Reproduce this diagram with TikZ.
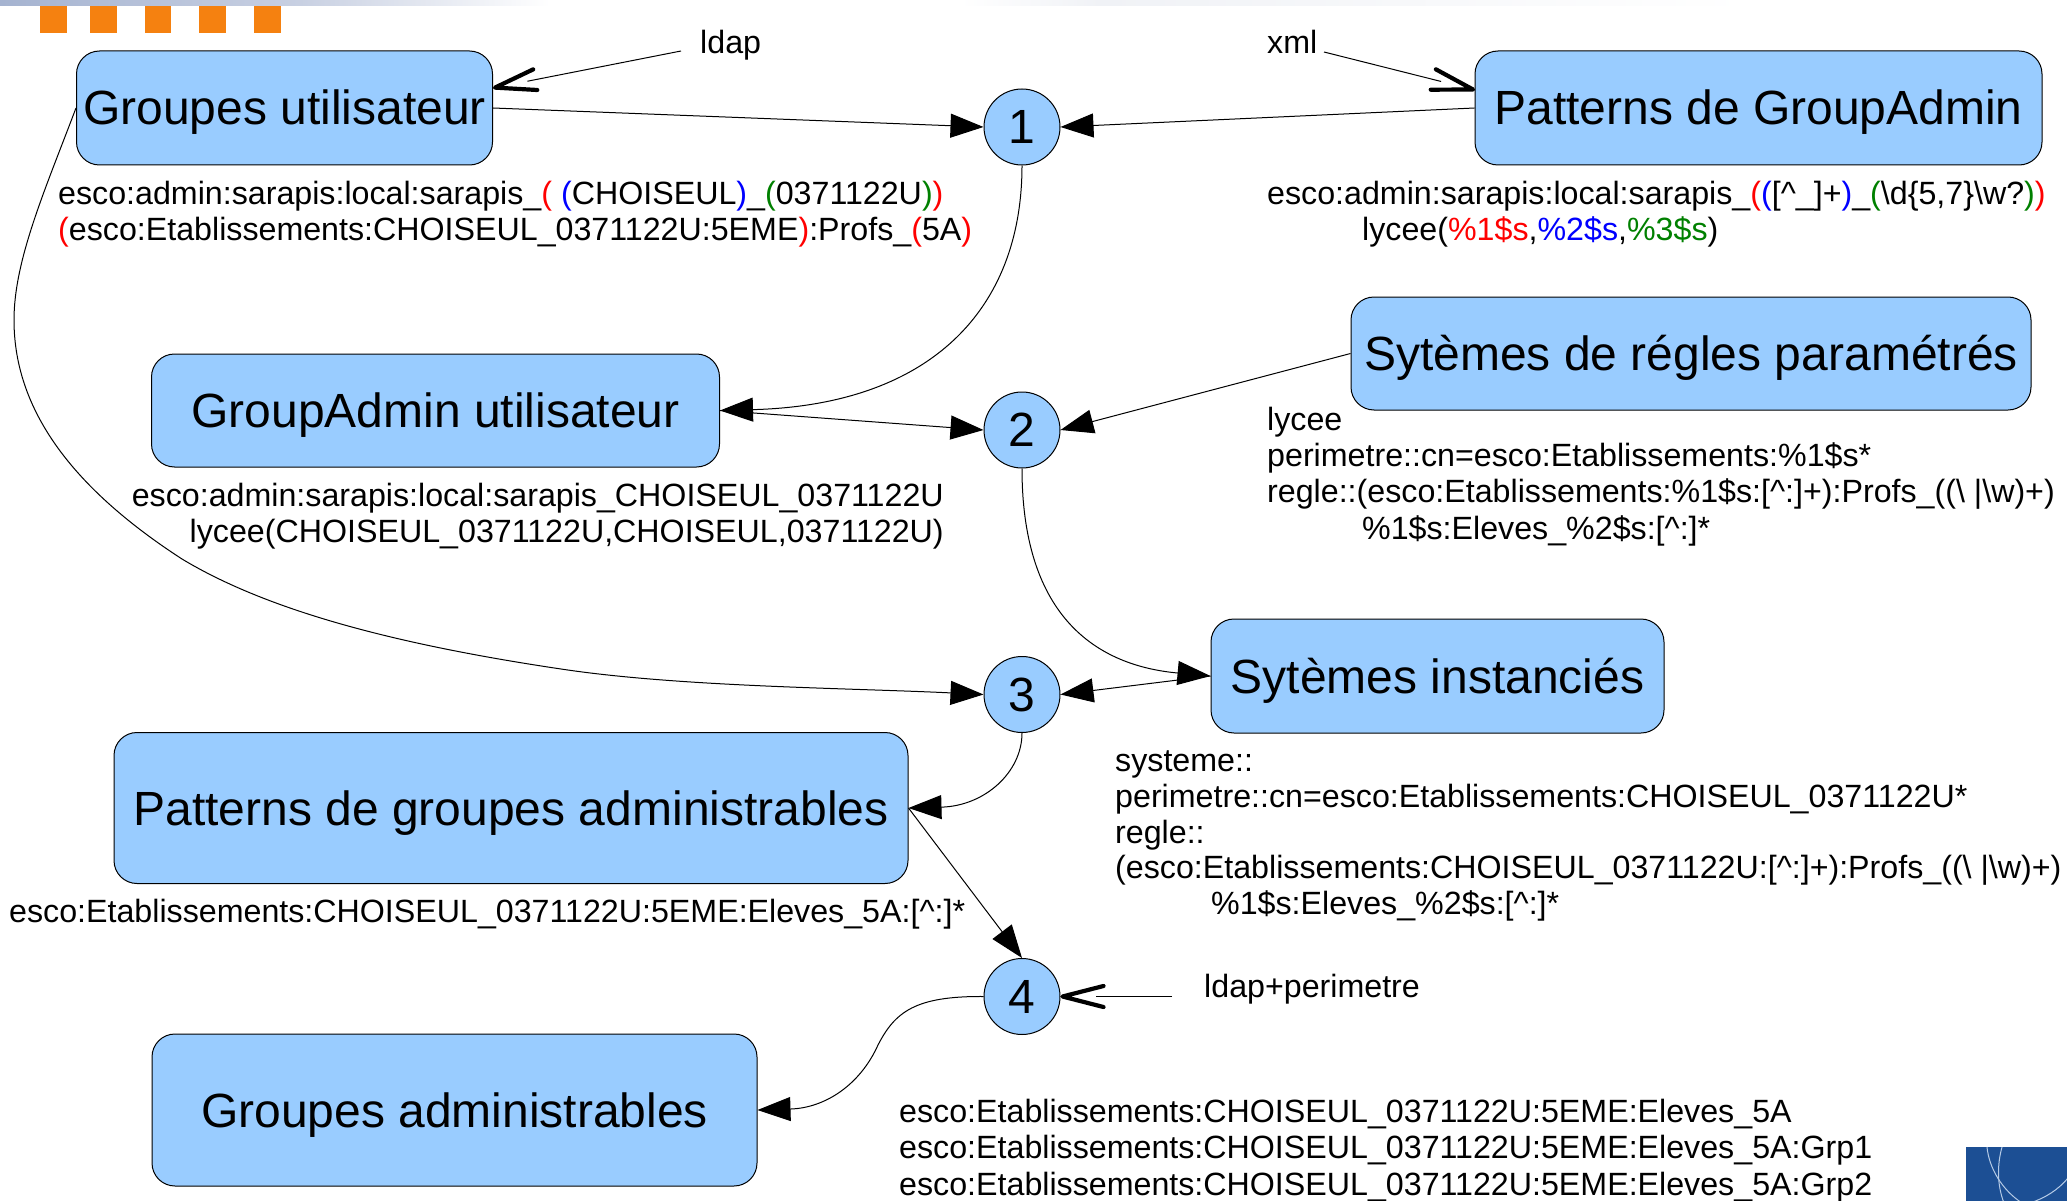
\documentclass[tikz,border=0pt]{standalone}
\usepackage{fontspec}
\setmainfont{Liberation Sans}
\usetikzlibrary{arrows.meta}
\pgfdeclarearrow{
  name=OpenVee,
  setup code={
    \pgfarrowssettipend{0pt}
    \pgfarrowssetbackend{-46pt}
    \pgfarrowssetvisualbackend{-46pt}
    \pgfarrowssetlineend{-35pt}
    \pgfarrowshullpoint{0pt}{0pt}
    \pgfarrowshullpoint{-46pt}{11pt}
    \pgfarrowshullpoint{-46pt}{-11pt}
  },
  drawing code={
    \pgfsetlinewidth{4.2pt}
    \pgfsetroundcap
    \pgfsetroundjoin
    \pgfsetdash{}{0pt}
    \pgfpathmoveto{\pgfqpoint{-43pt}{10.5pt}}
    \pgfpathlineto{\pgfqpoint{-2pt}{0pt}}
    \pgfpathlineto{\pgfqpoint{-43pt}{-10.5pt}}
    \pgfusepathqstroke
  },
  parameters={openvee}
}
\definecolor{boxblue}{HTML}{99CCFF}
\definecolor{orsq}{HTML}{F58110}
\definecolor{cornerblue}{HTML}{1C4F94}
\definecolor{cornerline}{HTML}{B5CBE6}
\definecolor{rd}{HTML}{FF0000}
\definecolor{bl}{HTML}{0000FF}
\definecolor{gn}{HTML}{008000}
\definecolor{bandA}{HTML}{A5B3D0}
\definecolor{bandB}{HTML}{C8D0E2}
\definecolor{bandC}{HTML}{F0F2F6}
\newcommand{\rp}[1]{\textcolor{rd}{#1}}
\newcommand{\bp}[1]{\textcolor{bl}{#1}}
\newcommand{\gp}[1]{\textcolor{gn}{#1}}
\newcommand{\crt}{\textasciicircum{}}
\newcommand{\bsl}{\textbackslash{}}
\tikzset{
  procbox/.style={draw=black,line width=1pt,fill=boxblue,rounded corners=23pt,inner sep=0pt,
    font=\fontsize{48}{55}\selectfont,text height=34pt,text depth=0pt,align=center},
  stepdot/.style={draw=black,line width=1pt,fill=boxblue,circle,minimum size=76pt,inner sep=0pt,
    font=\fontsize{48}{55}\selectfont,text height=33pt,text depth=0pt},
  lbl/.style={anchor=base west,inner sep=0pt,font=\fontsize{32.2}{36}\selectfont},
  lble/.style={lbl,anchor=base east},
  conn/.style={draw=black,line width=1pt,-{Triangle[length=33pt,width=24pt]}},
  feed/.style={draw=black,line width=1pt,-{OpenVee}},
  square/.style={fill=orsq},
}
\begin{document}
\begin{tikzpicture}[x=1pt,y=-1pt]
\useasboundingbox (0,0) rectangle (2067,1201);
% top band
\shade[left color=bandA,right color=bandB] (0,0) rectangle (300,6);
\shade[left color=bandB,right color=white] (300,0) rectangle (550,6);
\shade[left color=white,right color=bandC] (960,0) rectangle (1100,6);
\shade[left color=bandC,right color=white] (1100,0) rectangle (1750,6);
% orange squares
\fill[square] (40,6) rectangle (67,33);
\fill[square] (90,6) rectangle (117,33);
\fill[square] (145,6) rectangle (171,33);
\fill[square] (199,6) rectangle (226,33);
\fill[square] (254,6) rectangle (281,33);
% corner logo
\begin{scope}
\clip (1966,1147) rectangle (2067,1201);
\fill[cornerblue] (1966,1147) rectangle (2067,1201);
\draw[cornerline,line width=1pt] (1987,1147) .. controls (1989,1168) and (2002,1190) .. (2022,1203);
\draw[cornerline,line width=1pt] (2002,1147) .. controls (1997,1165) and (1997,1185) .. (2004,1203);
\draw[cornerline,line width=1pt] (2030,1203) .. controls (2045,1198) and (2058,1190) .. (2068,1178);
\end{scope}
% boxes
\node[procbox,minimum width=416pt,minimum height=114pt] (gu) at (284.5,108) {Groupes utilisateur};
\node[procbox,minimum width=567pt,minimum height=114pt] (pg) at (1758.5,108) {Patterns de GroupAdmin};
\node[procbox,minimum width=680pt,minimum height=113pt] (sr) at (1691,353.5) {Sytèmes de régles paramétrés};
\node[procbox,minimum width=568pt,minimum height=113pt] (ga) at (435.5,410.5) {GroupAdmin utilisateur};
\node[procbox,minimum width=453pt,minimum height=114pt] (si) at (1437.5,676) {Sytèmes instanciés};
\node[procbox,minimum width=794pt,minimum height=151pt] (pa) at (511,808) {Patterns de groupes administrables};
\node[procbox,minimum width=605pt,minimum height=152pt] (ad) at (454.5,1110) {Groupes administrables};
% steps
\node[stepdot] (c1) at (1022,127) {1};
\node[stepdot] (c2) at (1022,430) {2};
\node[stepdot] (c3) at (1022,694.5) {3};
\node[stepdot] (c4) at (1022,996.5) {4};
% free labels
\node[lbl] (ldap) at (700,53.5) {ldap};
\node[lbl] (xml) at (1267,53.5) {xml};
\node[lbl] (ldapp) at (1204,997) {ldap+perimetre};
\coordinate (ldapstart) at (681,51);
\coordinate (xmlstart) at (1324,52);
\coordinate (lpstart) at (1172,996.5);
\coordinate (ldaptip) at (493,88);
\coordinate (xmltip) at (1475,90);
% connectors
\draw[conn] (gu.east) -- (c1.west);
\draw[conn] (pg.west) -- (c1.east);
\draw[feed] (ldapstart) -- (ldaptip);
\draw[feed] (xmlstart) -- (xmltip);
\draw[conn] (c1.south) .. controls (1022,310) and (930,405) .. (ga.east);
\draw[conn] (ga.east) -- (c2.west);
\draw[conn] (sr.west) -- (c2.east);
\draw[conn] (c2.south) .. controls (1022,610) and (1090,665) .. (si.west);
\draw[conn] (si.west) -- (c3.east);
\draw[conn] (gu.west) .. controls (45,190) and (14,260) .. (14,320) .. controls (14,400) and (60,480) .. (182,559) .. controls (270,612) and (400,645) .. (561,669) .. controls (680,687) and (850,688) .. (c3.west);
\draw[conn] (c3.south) .. controls (1022,772) and (985,806) .. (pa.east);
\draw[conn] (pa.east) -- (c4.north);
\draw[feed] (lpstart) -- (c4.east);
\draw[conn] (c4.west) .. controls (915,996) and (895,1012) .. (878,1045) .. controls (860,1085) and (825,1108) .. (ad.east);
% texts
\node[lbl] (t1a) at (58,204.5) {esco:admin:sarapis:local:sarapis\_\rp{(} \bp{(}CHOISEUL\bp{)}\_\gp{(}0371122U\gp{)}\rp{)}};
\node[lbl] (t1b) at (58,240.5) {\rp{(}esco:Etablissements:CHOISEUL\_0371122U:5EME\rp{)}:Profs\_\rp{(}5A\rp{)}};
\node[lbl] (t2a) at (1267,204.5) {esco:admin:sarapis:local:sarapis\_\rp{(}\bp{(}[\crt\_]+\bp{)}\_\gp{(}\bsl d\{5,7\}\bsl w?\gp{)}\rp{)}};
\node[lbl] (t2b) at (1362,240.5) {lycee(\rp{\%1\$s},\bp{\%2\$s},\gp{\%3\$s})};
\node[lbl] (t3a) at (1267,430) {lycee};
\node[lbl] (t3b) at (1267,466) {perimetre::cn=esco:Etablissements:\%1\$s*};
\node[lbl] (t3c) at (1267,502.5) {regle::(esco:Etablissements:\%1\$s:[\crt:]+):Profs\_((\bsl\ |\bsl w)+)};
\node[lbl] (t3d) at (1362,539) {\%1\$s:Eleves\_\%2\$s:[\crt:]*};
\node[lble] (t4a) at (944,506) {esco:admin:sarapis:local:sarapis\_CHOISEUL\_0371122U};
\node[lble] (t4b) at (944,542) {lycee(CHOISEUL\_0371122U,CHOISEUL,0371122U)};
\node[lbl] (t5a) at (1115,771) {systeme::};
\node[lbl] (t5b) at (1115,807) {perimetre::cn=esco:Etablissements:CHOISEUL\_0371122U*};
\node[lbl] (t5c) at (1115,843) {regle::};
\node[lbl] (t5d) at (1115,878.5) {(esco:Etablissements:CHOISEUL\_0371122U:[\crt:]+):Profs\_((\bsl\ |\bsl w)+)};
\node[lbl] (t5e) at (1211,914) {\%1\$s:Eleves\_\%2\$s:[\crt:]*};
\node[lbl] (t6) at (9,922) {esco:Etablissements:CHOISEUL\_0371122U:5EME:Eleves\_5A:[\crt:]*};
\node[lbl] (t7a) at (899,1122) {esco:Etablissements:CHOISEUL\_0371122U:5EME:Eleves\_5A};
\node[lbl] (t7b) at (899,1158.5) {esco:Etablissements:CHOISEUL\_0371122U:5EME:Eleves\_5A:Grp1};
\node[lbl] (t7c) at (899,1195) {esco:Etablissements:CHOISEUL\_0371122U:5EME:Eleves\_5A:Grp2};
\end{tikzpicture}
\end{document}
